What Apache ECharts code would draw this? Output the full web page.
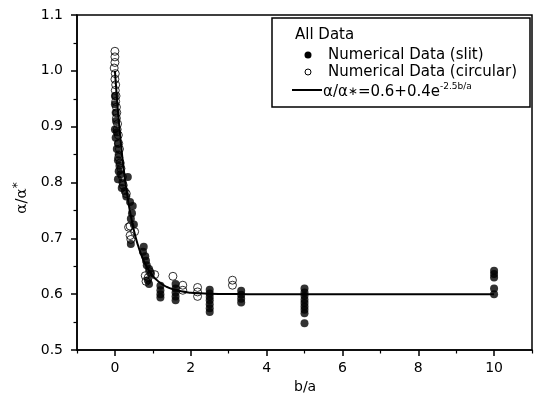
<!DOCTYPE html>
<html>
<head>
<meta charset="utf-8">
<script src="https://cdn.jsdelivr.net/npm/echarts@6/dist/echarts.min.js"></script>
<style>
  html, body { margin: 0; padding: 0; background: #fff; }
  #chart { width: 542px; height: 403px; }
</style>
</head>
<body>
<div id="chart"></div>
<script>
// Numerical data, slit geometry (filled markers)
const slitX = [
  0, 0, 0.02, 0.03, 0, 0.05, 0.02, 0.08, 0.05, 0.1, 0.08, 0.12, 0.1, 0.15, 0.08,
  0.2, 0.18, 0.26, 0.3, 0.34, 0.4, 0.47, 0.45, 0.42, 0.5,
  0.42, 0.76, 0.74, 0.8, 0.82, 0.84, 0.9, 0.95, 0.87, 0.9,
  1.2, 1.2, 1.2, 1.2,
  1.6, 1.6, 1.6, 1.6, 1.6,
  2.5, 2.5, 2.5, 2.5, 2.5, 2.5, 2.5,
  3.33, 3.33, 3.33, 3.33,
  5, 5, 5, 5, 5, 5, 5, 5, 5,
  10, 10, 10, 10, 10
];
const slitY = [
  0.955, 0.94, 0.925, 0.91, 0.895, 0.89, 0.88, 0.87, 0.86, 0.85, 0.84, 0.83, 0.82, 0.815, 0.806,
  0.80, 0.79, 0.785, 0.775, 0.81, 0.765, 0.758, 0.745, 0.735, 0.725,
  0.69, 0.685, 0.676, 0.668, 0.66, 0.652, 0.645, 0.637, 0.625, 0.618,
  0.615, 0.607, 0.6, 0.594,
  0.618, 0.61, 0.603, 0.596, 0.589,
  0.608, 0.601, 0.595, 0.589, 0.582, 0.575, 0.568,
  0.606, 0.599, 0.592, 0.585,
  0.61, 0.603, 0.597, 0.59, 0.584, 0.578, 0.572, 0.566, 0.548,
  0.642, 0.636, 0.63, 0.61, 0.6
];

// Numerical data, circular geometry (open markers)
const circX = [
  0, 0, 0, -0.02, 0.01, 0, 0.02, 0.01, 0.03, 0.02, 0.04, 0.05, 0.04, 0.07, 0.06,
  0.09, 0.1, 0.12, 0.1, 0.14, 0.16, 0.2, 0.22, 0.3,
  0.36, 0.4, 0.4, 0.52, 0.42,
  0.8, 0.82, 0.92, 1.05, 0.88,
  1.53, 1.79, 1.79, 2.18, 2.18, 2.18, 3.1, 3.1
];
const circY = [
  1.035, 1.025, 1.015, 1.005, 0.995, 0.985, 0.975, 0.965, 0.955, 0.945, 0.935, 0.925, 0.915, 0.905, 0.895,
  0.885, 0.87, 0.86, 0.845, 0.835, 0.825, 0.81, 0.795, 0.78,
  0.72, 0.722, 0.705, 0.712, 0.698,
  0.633, 0.623, 0.64, 0.635, 0.63,
  0.632, 0.616, 0.607, 0.612, 0.604, 0.596, 0.625, 0.616
];

// Fitted curve  α/α* = 0.6 + 0.4·exp(-2.5·b/a)
const fitBase = 0.6, fitAmp = 0.4, fitRate = 2.5;
const fitX = [0, 0.05, 0.1, 0.15, 0.2, 0.25, 0.3, 0.35, 0.4, 0.5, 0.6, 0.7, 0.8, 0.9, 1.0,
  1.1, 1.2, 1.3, 1.4, 1.5, 1.75, 2, 2.25, 2.5, 3, 3.5, 4, 5, 6, 7, 8, 9, 10];

// Axis ticks
const xMajorTicks = [0, 2, 4, 6, 8, 10];
const xMinorTicks = [-1, 1, 3, 5, 7, 9, 11];

const zip = (xs, ys) => xs.map((x, i) => [x, ys[i]]);
const fitData = fitX.map(x => [x, fitBase + fitAmp * Math.exp(-fitRate * x)]);

const FONT = '"DejaVu Sans", Arial, sans-serif';

const chart = echarts.init(document.getElementById('chart'), null, { renderer: 'canvas' });

const option = {
  animation: false,
  backgroundColor: '#fff',
  grid: {
    left: 77, right: 10, top: 15, bottom: 53,
    show: true, borderColor: '#000', borderWidth: 1.5, backgroundColor: 'transparent'
  },
  xAxis: [
    {
      type: 'value', min: -1, max: 11, interval: 1,
      axisLine: { show: true, onZero: false, lineStyle: { color: '#000', width: 1.5 } },
      axisTick: { show: true, inside: false, length: 6, customValues: xMajorTicks, lineStyle: { color: '#000', width: 1.5 } },
      axisLabel: { customValues: xMajorTicks, color: '#000', fontFamily: FONT, fontSize: 14, margin: 11 },
      splitLine: { show: false }
    },
    {
      type: 'value', min: -1, max: 11, interval: 1, position: 'bottom',
      axisLine: { show: false, onZero: false },
      axisTick: { show: true, inside: false, length: 3.5, customValues: xMinorTicks, lineStyle: { color: '#000', width: 1.2 } },
      axisLabel: { show: false },
      splitLine: { show: false }
    }
  ],
  yAxis: {
    type: 'value', min: 0.5, max: 1.1, interval: 0.1,
    axisLine: { show: true, onZero: false, lineStyle: { color: '#000', width: 1.5 } },
    axisTick: { show: true, inside: false, length: 6, lineStyle: { color: '#000', width: 1.5 } },
    minorTick: { show: true, splitNumber: 2, length: 3.5, lineStyle: { color: '#000', width: 1.2 } },
    axisLabel: {
      color: '#000', fontFamily: FONT, fontSize: 14, margin: 14,
      formatter: v => v.toFixed(1)
    },
    splitLine: { show: false }
  },
  series: [
    {
      name: 'fit', type: 'line', data: fitData, smooth: true,
      showSymbol: false, symbol: 'none',
      lineStyle: { color: '#000', width: 2 }, z: 2
    },
    {
      name: 'slit', type: 'scatter', data: zip(slitX, slitY),
      symbol: 'circle', symbolSize: 8,
      itemStyle: { color: '#000' }, z: 3
    },
    {
      name: 'circular', type: 'scatter', data: zip(circX, circY),
      symbol: 'circle', symbolSize: 8,
      itemStyle: { color: 'rgba(255,255,255,0)', borderColor: '#000', borderWidth: 1 }, z: 4
    }
  ],
  graphic: [
    // axis titles
    {
      type: 'text', left: 294, top: 380,
      style: { text: 'b/a', font: '14px ' + FONT, fill: '#000' }
    },
    {
      type: 'text', x: 33, y: 198, rotation: Math.PI / 2,
      style: {
        text: '{a|α/α}{s|*}',
        textAlign: 'center', textVerticalAlign: 'bottom',
        rich: {
          a: { font: '15px "DejaVu Serif", serif', fill: '#000' },
          s: { font: '12px ' + FONT, fill: '#000', verticalAlign: 'top', padding: [0, 0, 9, 0] }
        }
      }
    },
    // legend box
    {
      type: 'rect', shape: { x: 272, y: 18, width: 258, height: 89 },
      style: { fill: '#fff', stroke: '#000', lineWidth: 1.5 }, z: 10
    },
    {
      type: 'text', x: 295, y: 35, z: 11,
      style: { text: 'All Data', font: '15px ' + FONT, fill: '#000', textVerticalAlign: 'middle' }
    },
    {
      type: 'circle', shape: { cx: 308, cy: 55, r: 3.5 }, z: 11,
      style: { fill: '#000' }
    },
    {
      type: 'text', x: 328, y: 55, z: 11,
      style: { text: 'Numerical Data (slit)', font: '15px ' + FONT, fill: '#000', textVerticalAlign: 'middle' }
    },
    {
      type: 'circle', shape: { cx: 308, cy: 72, r: 3 }, z: 11,
      style: { fill: '#fff', stroke: '#000', lineWidth: 1 }
    },
    {
      type: 'text', x: 328, y: 72, z: 11,
      style: { text: 'Numerical Data (circular)', font: '15px ' + FONT, fill: '#000', textVerticalAlign: 'middle' }
    },
    {
      type: 'line', shape: { x1: 292, y1: 90, x2: 322, y2: 90 }, z: 11,
      style: { stroke: '#000', lineWidth: 2 }
    },
    {
      type: 'text', x: 323, y: 92, z: 11,
      style: {
        text: '{a|α/α}{m|∗}{a|=0.6+0.4e}{s|-2.5b/a}',
        textVerticalAlign: 'middle',
        rich: {
          a: { font: '15px ' + FONT, fill: '#000' },
          m: { font: '12px ' + FONT, fill: '#000' },
          s: { font: '9px ' + FONT, fill: '#000', verticalAlign: 'top', padding: [0, 0, 11, 0] }
        }
      }
    }
  ]
};

chart.setOption(option);
</script>
</body>
</html>
